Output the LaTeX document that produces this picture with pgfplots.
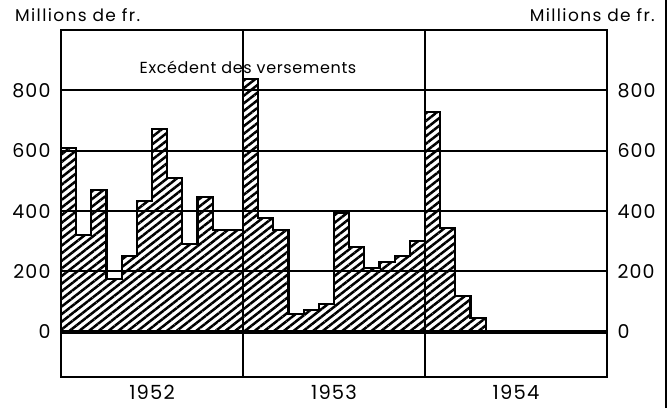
\documentclass[border=0pt]{standalone}
\usepackage{pgfplots}
\pgfplotsset{compat=1.18}
\usepackage{fontspec}
\setmainfont{Poppins}
\newfontfamily\spaced[LetterSpace=8]{Poppins}
\newfontfamily\spacedb[LetterSpace=4]{Poppins}
\newfontfamily\spacedn[LetterSpace=6]{Poppins}
\usetikzlibrary{patterns.meta}
\begin{document}
\begin{tikzpicture}
\useasboundingbox (0,0) rectangle (672pt,408pt);
\pgfplotsset{myaxis/.style={at={(61pt,31pt)}, anchor=south west, scale only axis,
  width=546pt, height=347pt, xmin=0, xmax=36, ymin=-150, ymax=1000,
  /pgf/number format/assume math mode=true,
  tick label style={font=\spacedn\fontsize{19}{19}\selectfont},
  major tick length=0pt, minor tick length=0pt}}
\begin{axis}[myaxis, axis on top, axis line style={line width=2.5pt},
  xtick={6,18,30}, xticklabels={1952,1953,1954},
  xticklabel style={yshift=-5pt, font=\spacedn\fontsize{19.5}{19.5}\selectfont},
  minor xtick={12,24}, xminorgrids, minor grid style={black, line width=2pt},
  ytick={0,200,400,600,800}, ymajorgrids, major grid style={black, line width=2pt},
  yticklabel style={xshift=-7pt}]
\addplot[const plot, draw=black, line width=2.2pt,
  pattern={Lines[angle=38,distance=6pt,line width=2.5pt]}, pattern color=black]
  coordinates {(0,610) (1,320) (2,470) (3,175) (4,250) (5,432) (6,672) (7,510)
  (8,292) (9,447) (10,337) (11,337)
  (12,838) (13,376) (14,338) (15,60) (16,72) (17,93) (18,395) (19,280)
  (20,210) (21,230) (22,250) (23,302)
  (24,727) (25,345) (26,118) (27,45) (28,45)} \closedcycle;
\addplot[black, line width=4pt] coordinates {(0,0) (36,0)};
\node[font=\spacedb\fontsize{16}{16}\selectfont] at (axis cs:12.33,877) {Excédent des versements};
\end{axis}
\begin{axis}[myaxis, axis y line*=right, axis x line=none,
  ytick={0,200,400,600,800}, yticklabel style={xshift=7pt}]
\addplot[draw=none] coordinates {(0,0)};
\end{axis}
\node[anchor=west, font=\spaced\fontsize{17}{17}\selectfont, inner sep=0pt] at (15pt,393pt) {Millions de fr.};
\node[anchor=east, font=\spaced\fontsize{17}{17}\selectfont, inner sep=0pt] at (655pt,393pt) {Millions de fr.};
\draw[line width=1.5pt] (666pt,0pt) -- (666pt,408pt);
\end{tikzpicture}
\end{document}
